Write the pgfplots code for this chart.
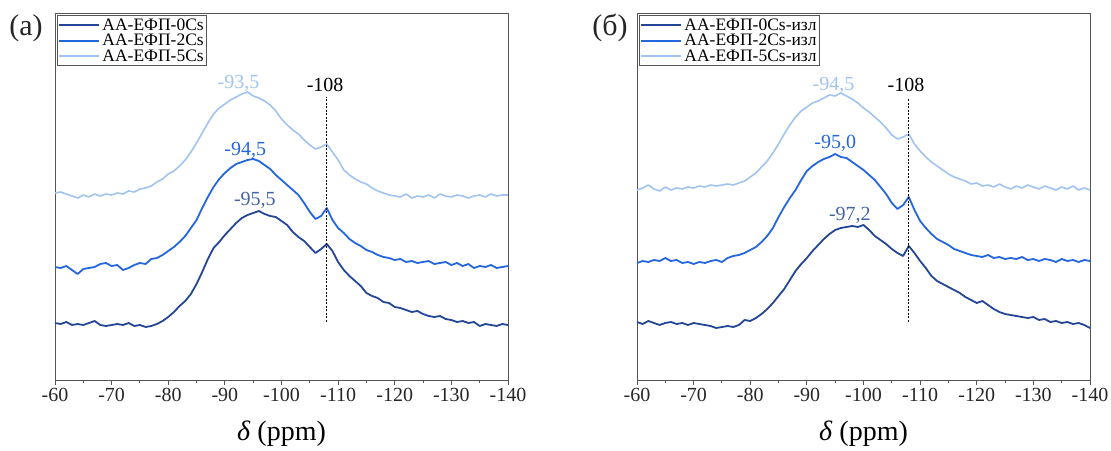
\documentclass[border=0pt]{standalone}
\usepackage{fontspec}
\setmainfont{Liberation Serif}
\usepackage{pgfplots}
\usepackage{pgfplotstable}
\pgfplotsset{compat=1.18}
\definecolor{cA}{RGB}{36,70,150}
\definecolor{cB}{RGB}{36,102,222}
\definecolor{cC}{RGB}{160,195,240}
\definecolor{frame}{RGB}{85,85,85}
\tikzset{plab/.style={font=\fontsize{20}{20}\selectfont}}

\pgfplotstableread{
x a b c
-60 57 113 187
-61 56 112 188
-62 58 114 186
-63 55 110 184
-64 56 106 182
-65 55 111 185
-66 57 112 183
-67 59 113 186
-68 55 116 184
-69 54 117 186
-70 55 114 185
-71 56 115 187
-72 55 110 186
-73 57 112 189
-74 54 115 188
-75 55 117 191
-76 53 116 192
-77 54 121 194
-78 56 122 198
-79 59 125 201
-80 63 129 206
-81 68 133 209
-82 74 138 214
-83 79 144 220
-84 86 152 228
-85 96 160 237
-86 108 172 247
-87 121 183 257
-88 132 193 266
-89 138 201 272
-90 145 207 276
-91 151 212 280
-92 157 216 283
-93 162 218 286
-94 165 220 288
-95 167 221 284
-96 169 219 282
-97 166 215 279
-98 164 211 275
-99 163 205 269
-100 159 200 261
-101 155 195 255
-102 148 190 250
-103 143 185 246
-104 139 177 240
-105 133 168 235
-106 127 161 231
-107 131 164 233
-108 136 172 236
-109 129 160 228
-110 118 152 220
-111 110 147 210
-112 104 141 205
-113 99 137 201
-114 94 134 198
-115 87 130 196
-116 84 128 192
-117 82 125 189
-118 78 123 187
-119 77 122 185
-120 73 120 184
-121 72 121 183
-122 70 118 186
-123 68 119 182
-124 69 117 184
-125 66 118 183
-126 64 119 185
-127 63 116 182
-128 64 117 186
-129 61 118 184
-130 60 115 183
-131 58 117 185
-132 59 114 184
-133 57 116 182
-134 58 112 184
-135 54 114 185
-136 56 113 183
-137 55 115 186
-138 54 112 184
-139 56 113 185
-140 55 114 185
}\leftdata

\pgfplotstableread{
x a b c
-60 58 117 190
-61 56 119 192
-62 59 118 195
-63 57 120 191
-64 55 119 189
-65 57 122 193
-66 58 119 190
-67 56 120 192
-68 57 117 191
-69 55 118 193
-70 57 116 192
-71 56 118 194
-72 55 117 193
-73 54 119 195
-74 52 120 194
-75 53 118 195
-76 54 122 196
-77 53 124 195
-78 55 125 197
-79 60 127 199
-80 59 130 203
-81 62 133 207
-82 66 138 213
-83 71 144 219
-84 77 152 227
-85 84 163 236
-86 91 173 246
-87 100 182 255
-88 109 190 263
-89 116 200 269
-90 122 209 273
-91 129 214 277
-92 135 218 279
-93 141 221 282
-94 146 223 285
-95 150 226 284
-96 152 223 287
-97 153 222 284
-98 154 218 281
-99 153 214 277
-100 155 210 272
-101 150 205 268
-102 144 200 263
-103 140 193 258
-104 136 186 252
-105 131 177 245
-106 127 171 241
-107 124 175 243
-108 134 183 246
-109 127 170 236
-110 119 159 229
-111 112 152 223
-112 104 146 218
-113 99 141 214
-114 96 138 210
-115 93 135 206
-116 90 131 203
-117 87 129 201
-118 83 127 199
-119 80 125 196
-120 77 124 197
-121 79 123 194
-122 75 125 195
-123 71 122 193
-124 68 123 196
-125 66 121 193
-126 65 122 191
-127 64 121 194
-128 63 123 192
-129 62 120 195
-130 63 121 193
-131 60 119 191
-132 61 121 194
-133 58 120 192
-134 59 118 190
-135 57 121 193
-136 58 119 191
-137 56 120 194
-138 57 118 190
-139 55 120 192
-140 52 119 190
}\rightdata

\pgfplotsset{
  nmr/.style={
    anchor=south west,
    scale only axis,
    width=453pt, height=367pt,
    xmin=-140, xmax=-60, x dir=reverse,
    ymin=0, ymax=367,
    ytick=\empty,
    xtick={-140,-130,...,-60},
    minor x tick num=1,
    xtick pos=bottom,
    tick align=outside,
    major tick length=5pt,
    minor tick length=3pt,
    axis line style={draw=frame, line width=0.9pt},
    every tick/.style={draw=frame, line width=0.9pt},
    /pgf/number format/assume math mode=true,
    ticklabel style={font=\fontsize{20}{20}\selectfont, text=black!85},
    xlabel={\textit{δ} (ppm)},
    xlabel style={font=\fontsize{28}{28}\selectfont, at={(rel axis cs:0.5,0)}, anchor=center, yshift=-54pt},
    clip=false,
    legend cell align=left,
    legend style={at={(rel axis cs:0,1)}, anchor=north west, xshift=2pt, yshift=-2pt,
      draw=frame, line width=0.9pt, font=\fontsize{17.5}{17.5}\selectfont,
      inner sep=1pt, row sep=-1.5pt,
      /tikz/every even column/.style={column sep=2pt}},
    legend image code/.code={\draw[#1, line width=2pt] (0pt,0pt) -- (40pt,0pt);},
  },
  s0/.style={color=cA, line width=1.8pt, line join=round},
  s2/.style={color=cB, line width=1.8pt, line join=round},
  s5/.style={color=cC, line width=1.6pt, line join=round},
}

\begin{document}
\begin{tikzpicture}
\useasboundingbox (0,0) rectangle (1111pt,450pt);
\begin{axis}[nmr, at={(55pt,70pt)}]
\addplot[s0] table[x=x, y=a] {\leftdata};
\addlegendentry{АА-ЕФП-0Cs}
\addplot[s2] table[x=x, y=b] {\leftdata};
\addlegendentry{АА-ЕФП-2Cs}
\addplot[s5] table[x=x, y=c] {\leftdata};
\addlegendentry{АА-ЕФП-5Cs}
\addplot[forget plot, black, line width=0.7pt, dash pattern=on 2pt off 1.5pt] coordinates {(-108,58) (-108,283)};
\node[plab, text=black] at (axis cs:-107.7,295) {-108};
\node[plab, text=cC] at (axis cs:-92.4,297) {-93,5};
\node[plab, text=cB] at (axis cs:-93.6,230) {-94,5};
\node[plab, text=cA!85!white] at (axis cs:-95.3,180) {-95,5};
\node[font=\fontsize{30}{30}\selectfont, text=black!85] at (rel axis cs:-0.064,0.959) {(a)};
\end{axis}
\begin{axis}[nmr, at={(637pt,70pt)}]
\addplot[s0] table[x=x, y=a] {\rightdata};
\addlegendentry{АА-ЕФП-0Cs-изл}
\addplot[s2] table[x=x, y=b] {\rightdata};
\addlegendentry{АА-ЕФП-2Cs-изл}
\addplot[s5] table[x=x, y=c] {\rightdata};
\addlegendentry{АА-ЕФП-5Cs-изл}
\addplot[forget plot, black, line width=0.7pt, dash pattern=on 2pt off 1.5pt] coordinates {(-108,58) (-108,282)};
\node[plab, text=black] at (axis cs:-107.5,295) {-108};
\node[plab, text=cC] at (axis cs:-94.7,295) {-94,5};
\node[plab, text=cB] at (axis cs:-95.0,237) {-95,0};
\node[plab, text=cA!85!white] at (axis cs:-97.6,165) {-97,2};
\node[font=\fontsize{30}{30}\selectfont, text=black!85] at (rel axis cs:-0.0596,0.959) {(б)};
\end{axis}
\end{tikzpicture}
\end{document}
